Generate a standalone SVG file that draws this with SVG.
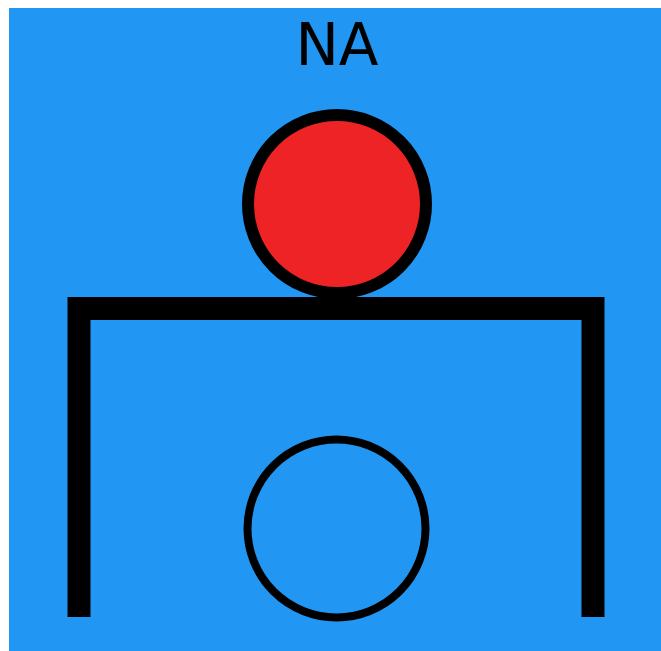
<svg xmlns="http://www.w3.org/2000/svg" width="661" height="651" viewBox="0 0 661 651">
<style>
.bg{fill:#2196F3}
.frame{fill:none;stroke:#000;stroke-width:23;stroke-linejoin:miter;stroke-linecap:butt}
.lbl{font-family:"DejaVu Sans","Noto Sans",sans-serif;font-size:58px;fill:#000}
</style>
<rect class="bg" x="9" y="8" width="652" height="643"/>
<g id="title"><text class="lbl" x="337" y="65" text-anchor="middle">NA</text></g>
<g id="connectors">
<path class="frame" d="M79,617 V308.5 H593 V617"/>
</g>
<g id="red-ball"><circle cx="337" cy="204" r="89" fill="#EE2326" stroke="#000" stroke-width="12"/></g>
<g id="empty-ring"><circle cx="336.5" cy="528.5" r="89" fill="none" stroke="#000" stroke-width="8"/></g>
</svg>
